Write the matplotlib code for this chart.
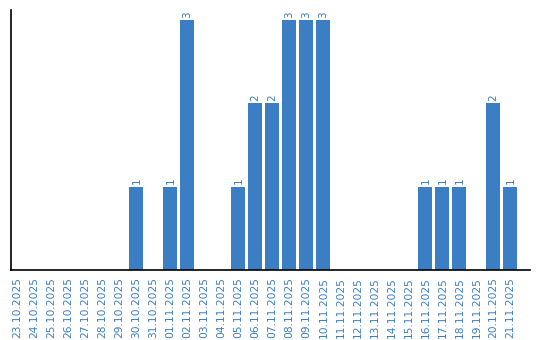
import matplotlib
matplotlib.use("Agg")
import matplotlib.pyplot as plt

dates = ["23.10.2025", "24.10.2025", "25.10.2025", "26.10.2025", "27.10.2025",
         "28.10.2025", "29.10.2025", "30.10.2025", "31.10.2025", "01.11.2025",
         "02.11.2025", "03.11.2025", "04.11.2025", "05.11.2025", "06.11.2025",
         "07.11.2025", "08.11.2025", "09.11.2025", "10.11.2025", "11.11.2025",
         "12.11.2025", "13.11.2025", "14.11.2025", "15.11.2025", "16.11.2025",
         "17.11.2025", "18.11.2025", "19.11.2025", "20.11.2025", "21.11.2025"]
counts = [0, 0, 0, 0, 0, 0, 0, 1, 0, 1,
          3, 0, 0, 1, 2, 2, 3, 3, 3, 0,
          0, 0, 0, 0, 1, 1, 1, 0, 2, 1]

color = "#3b7ec3"
fig = plt.figure(figsize=(5.4, 3.4), dpi=100)
ax = fig.add_axes([11/540, 70/340, 519/540, 260/340])
x = list(range(len(dates)))
ax.bar(x, counts, width=0.82, color=color)
for xi, v in zip(x, counts):
    if v > 0:
        ax.text(xi, v + 0.03, str(v), rotation=90, ha="center", va="bottom",
                color=color, fontsize=7.5)
ax.set_xlim(-0.38, 30.15)
ax.set_ylim(0, 3.12)
ax.set_xticks(x)
ax.set_xticklabels(dates, rotation=90, fontsize=7.7, color=color)
ax.tick_params(axis="x", length=0, pad=5)
ax.set_yticks([])
ax.spines["top"].set_visible(False)
ax.spines["right"].set_visible(False)
ax.spines["left"].set_linewidth(1.2)
ax.spines["bottom"].set_linewidth(1.2)
fig.savefig("out.png", dpi=100)
